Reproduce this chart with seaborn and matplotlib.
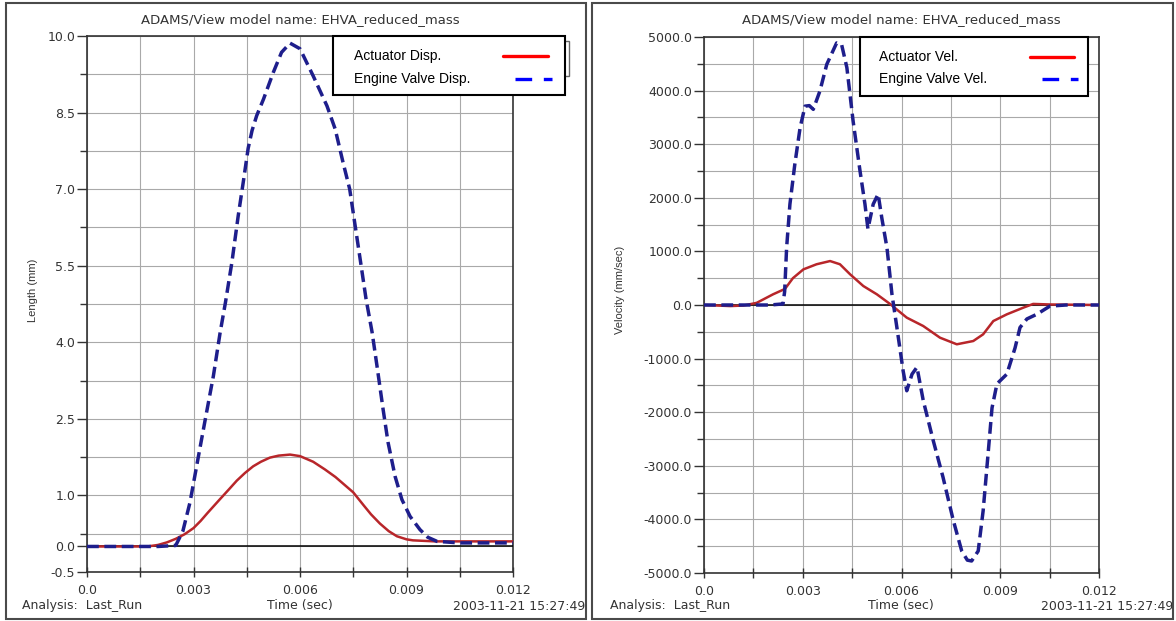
import matplotlib
matplotlib.use("Agg")
import matplotlib.pyplot as plt
import seaborn as sns
from matplotlib.patches import Rectangle
from matplotlib.lines import Line2D

### data (time in sec) ###
# left: displacement (mm)
act_disp_t = [0.0, 0.0010, 0.0017, 0.0020, 0.00225, 0.0025, 0.00275, 0.0030, 0.0032,
              0.0034, 0.00375, 0.0040, 0.00422, 0.00445, 0.00468, 0.0049, 0.00515,
              0.0054, 0.00572, 0.0060, 0.00637, 0.0067, 0.0070, 0.0072, 0.0075,
              0.0078, 0.0080, 0.00825, 0.0085, 0.00873, 0.0090, 0.00918, 0.0098,
              0.0110, 0.0120]
act_disp = [0.0, 0.0, 0.0, 0.03, 0.08, 0.15, 0.24, 0.36, 0.50,
            0.66, 0.93, 1.12, 1.29, 1.44, 1.57, 1.66, 1.74,
            1.78, 1.80, 1.77, 1.66, 1.51, 1.36, 1.24, 1.06,
            0.80, 0.63, 0.45, 0.30, 0.20, 0.14, 0.12, 0.10,
            0.10, 0.10]

valve_disp_t = [0.0, 0.0010, 0.0020, 0.0025, 0.0027, 0.0029, 0.00314, 0.00335, 0.00356,
                0.00375, 0.0039, 0.00408, 0.00426, 0.0044, 0.00454, 0.00465, 0.00478,
                0.00497, 0.00525, 0.00548, 0.00572, 0.0060, 0.00637, 0.00676, 0.00699,
                0.00721, 0.0074, 0.00755, 0.00769, 0.00786, 0.00803, 0.00817, 0.00834,
                0.00848, 0.00868, 0.00887, 0.0091, 0.00938, 0.0096, 0.00986, 0.0105,
                0.0120]
valve_disp = [0.0, 0.0, 0.0, 0.02, 0.30, 0.86, 1.77, 2.56, 3.34,
              4.19, 4.78, 5.56, 6.48, 7.13, 7.80, 8.15, 8.44,
              8.76, 9.29, 9.68, 9.86, 9.75, 9.22, 8.63, 8.18,
              7.53, 7.00, 6.30, 5.65, 4.85, 4.20, 3.53, 2.69,
              2.04, 1.37, 0.92, 0.59, 0.33, 0.18, 0.10, 0.07,
              0.07]

# right: velocity (mm/sec)
act_vel_t = [0.0, 0.0008, 0.0012, 0.0016, 0.0021, 0.00246, 0.0027, 0.00302, 0.00342,
             0.00383, 0.00413, 0.00444, 0.00484, 0.00525, 0.00565, 0.00616, 0.00666,
             0.00717, 0.00768, 0.00818, 0.00848, 0.00879, 0.0092, 0.0097, 0.0100,
             0.0105, 0.0120]
act_vel = [0, -20, -10, 40, 200, 300, 500, 665, 760,
           820, 760, 572, 354, 200, 20, -236, -392,
           -610, -733, -672, -547, -299, -174, -50, 20,
           10, 0]

valve_vel_t = [0.0, 0.0010, 0.0020, 0.0024, 0.00245, 0.00251, 0.00261, 0.00276, 0.00292,
               0.00307, 0.0032, 0.00332, 0.00352, 0.00373, 0.00403, 0.00418, 0.00434,
               0.00453, 0.00474, 0.00489, 0.00498, 0.00514, 0.00529, 0.0054, 0.00556,
               0.00571, 0.00586, 0.00605, 0.00616, 0.00632, 0.00647, 0.00666, 0.00696,
               0.00726, 0.00757, 0.00783, 0.0080, 0.00813, 0.00833, 0.00848, 0.00863,
               0.00875, 0.0089, 0.0092, 0.00945, 0.0096, 0.00981, 0.01012, 0.01051,
               0.0110, 0.0120]
valve_vel = [0, 0, 0, 20, 250, 1070, 1880, 2630, 3310,
             3710, 3720, 3650, 3990, 4490, 4890, 4860, 4430,
             3430, 2500, 1880, 1420, 1880, 2070, 1630, 1060,
             200, -420, -1230, -1600, -1290, -1160, -1780, -2520,
             -3210, -4010, -4590, -4760, -4776, -4590, -3840, -2780,
             -1920, -1470, -1290, -800, -420, -260, -170, -20,
             0, 0]

x_major = [0.0, 0.003, 0.006, 0.009, 0.012]
x_labels = ["0.0", "0.003", "0.006", "0.009", "0.012"]
x_minor = [0.0015, 0.0045, 0.0075, 0.0105]
len_major = [-0.5, 0.0, 1.0, 2.5, 4.0, 5.5, 7.0, 8.5, 10.0]
len_minor = [0.25, 1.75, 3.25, 4.75, 6.25, 7.75, 9.25]
vel_major = [-5000, -4000, -3000, -2000, -1000, 0, 1000, 2000, 3000, 4000, 5000]
vel_minor = [-4500, -3500, -2500, -1500, -500, 500, 1500, 2500, 3500, 4500]

RED = "#b8262a"
BLUE = "#1e1e8c"
W, H = 1176, 621

sns.set_theme(style="white")
plt.rcParams["font.family"] = ["DejaVu Sans"]

fig = plt.figure(figsize=(W / 100, H / 100), dpi=100)


def px_box(x0, y0, x1, y1):
    return [x0 / W, 1 - y1 / H, (x1 - x0) / W, (y1 - y0) / H]


ax1 = fig.add_axes(px_box(87, 36, 513, 572))
ax2 = fig.add_axes(px_box(704, 37, 1099, 573))

for ax, (ta, ya), (tb, yb) in [(ax1, (act_disp_t, act_disp), (valve_disp_t, valve_disp)),
                               (ax2, (act_vel_t, act_vel), (valve_vel_t, valve_vel))]:
    sns.lineplot(x=ta, y=ya, ax=ax, color=RED, lw=1.8, estimator=None, zorder=4)
    sns.lineplot(x=tb, y=yb, ax=ax, color=BLUE, lw=2.5, estimator=None, zorder=5)
    ax.lines[-1].set_dashes([3.4, 1.6])
    ax.axhline(0, color="black", lw=1.1, zorder=3)

    ax.set_xlim(0, 0.012)
    ax.set_xticks(x_major)
    ax.set_xticklabels(x_labels)
    ax.set_xticks(x_minor, minor=True)
    ax.grid(which="both", color="#a9a9a9", lw=0.8)
    ax.set_axisbelow(True)
    for s in ax.spines.values():
        s.set_color("#333333")
        s.set_linewidth(1.2)
    ax.tick_params(axis="y", which="both", direction="out", color="#333333",
                   labelcolor="#333333", labelsize=9, pad=1.5, left=True)
    ax.tick_params(axis="y", which="major", length=7, width=1)
    ax.tick_params(axis="y", which="minor", length=5, width=1)
    ax.tick_params(axis="x", which="both", direction="inout", length=7, width=1,
                   color="#333333", labelcolor="#333333", labelsize=9, pad=5, bottom=True)
    ax.set_xlabel("")
    ax.set_ylabel("")

ax1.set_ylim(-0.5, 10)
ax1.set_yticks(len_major)
ax1.set_yticklabels([f"{v:.1f}" for v in len_major])
ax1.set_yticks(len_minor, minor=True)

ax2.set_ylim(-5000, 5000)
ax2.set_yticks(vel_major)
ax2.set_yticklabels([f"{v:.1f}" for v in vel_major])
ax2.set_yticks(vel_minor, minor=True)

### text around each panel ###
small = dict(fontsize=9, color="#333333")
for cx, lx, rx, ylab_x, ylab in [(300, 22, 585, 33, "Length (mm)"),
                                 (901, 610, 1173, 620, "Velocity (mm/sec)")]:
    fig.text(cx / W, 1 - 20 / H, "ADAMS/View model name: EHVA_reduced_mass",
             ha="center", va="center", fontsize=9.5, color="#333333")
    fig.text(lx / W, 1 - 606 / H, "Analysis:  Last_Run", ha="left", va="center", **small)
    fig.text(cx / W, 1 - 606 / H, "Time (sec)", ha="center", va="center", **small)
    fig.text(rx / W, 1 - 606 / H, "2003-11-21 15:27:49", ha="right", va="center", **small)
    fig.text(ylab_x / W, 1 - 290 / H, ylab, rotation=90, ha="center", va="center",
             fontsize=8, color="#333333", family="Liberation Sans")


def fig_rect(x0, y0, x1, y1, **kw):
    fig.add_artist(Rectangle((x0 / W, 1 - y1 / H), (x1 - x0) / W, (y1 - y0) / H,
                             transform=fig.transFigure, **kw))


def fig_line(x0, x1, y, **kw):
    fig.add_artist(Line2D([x0 / W, x1 / W], [1 - y / H, 1 - y / H],
                          transform=fig.transFigure, **kw))


# legend boxes (text on the left, key sample on the right, like ADAMS draws them)
fig_rect(520, 41, 569, 76, fc="white", ec="#666666", lw=1, zorder=6)
keys = [(333, 36, 565, 95, 354, ["Actuator Disp.", "Engine Valve Disp."], (503, 548), (515, 552), (56, 79)),
        (860, 37, 1088, 96, 879, ["Actuator Vel.", "Engine Valve Vel."], (1030, 1074), (1042, 1078), (57, 79))]
for x0, y0, x1, y1, tx, labels, rspan, bspan, ys in keys:
    fig_rect(x0, y0, x1, y1, fc="white", ec="black", lw=1.5, zorder=7)
    for lab, yy in zip(labels, ys):
        fig.text(tx / W, 1 - yy / H, lab, ha="left", va="center", fontsize=10,
                 color="black", family="Liberation Sans", zorder=8)
    fig_line(*rspan, ys[0], color="#ff0000", lw=2.4, zorder=8)
    fig_line(*bspan, ys[1], color="#0000ff", lw=2.4, dashes=[5, 3.5], zorder=8)

# panel frames
fig_rect(6, 3, 586, 619, fill=False, ec="#4a4a4a", lw=1.5, zorder=10)
fig_rect(592, 3, 1173, 619, fill=False, ec="#4a4a4a", lw=1.5, zorder=10)

fig.savefig("out.png", dpi=100)
